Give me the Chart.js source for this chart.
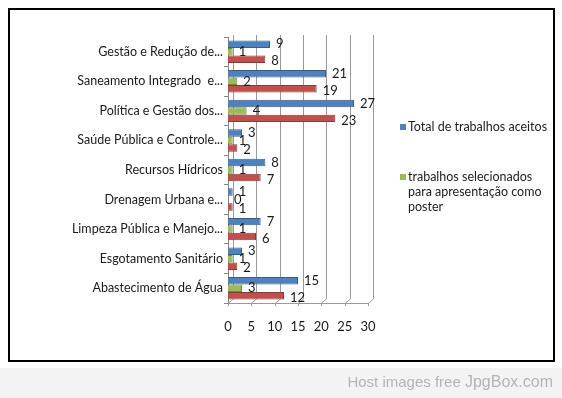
<!DOCTYPE html>
<html>
<head>
<meta charset="utf-8">
<script src="https://cdn.jsdelivr.net/npm/chart.js@4.4.1/dist/chart.umd.min.js"></script>
<style>
  body { margin: 0; width: 562px; height: 398px; background: #fff; position: relative; overflow: hidden; font-family: Lato, sans-serif; }
  #grafico { position: absolute; left: 0; top: 0; }
  #moldura { position: absolute; left: 8px; top: 8px; width: 543px; height: 350px; border: 2px solid #000; pointer-events: none; }
  #legenda { position: absolute; left: 400px; top: 119px; width: 150px; font-size: 12.5px; color: #222; line-height: 15px; }
  .item { position: relative; padding-left: 8px; }
  .item span.cor { position: absolute; left: 0; top: 5px; width: 6px; height: 6px; }
  #rodape { position: absolute; left: 0; top: 368px; width: 562px; height: 30px; background: #f3f3f3; }
  #rodape div { position: absolute; right: 9px; top: 5px; font-family: "Liberation Sans", Arial, sans-serif; font-size: 15px; color: #b4b4b4; }
</style>
</head>
<body>
<canvas id="grafico" width="562" height="368"></canvas>
<div id="moldura"></div>
<div id="legenda">
  <div class="item"><span class="cor" style="background:#4f81bd"></span>Total de trabalhos aceitos</div>
  <div class="item" style="margin-top:35px"><span class="cor" style="background:#9bbb59"></span>trabalhos selecionados para apresentação como poster</div>
</div>
<div id="rodape"><div>Host images free <span style="font-size:16px">JpgBox.com</span></div></div>
<script>
const categorias = [
    'Gestão e Redução de...',
    'Saneamento Integrado  e...',
    'Política e Gestão dos...',
    'Saúde Pública e Controle...',
    'Recursos Hídricos',
    'Drenagem Urbana e...',
    'Limpeza Pública e Manejo...',
    'Esgotamento Sanitário',
    'Abastecimento de Água'
];
const totalAceitos = [9, 21, 27, 3, 8, 1, 7, 3, 15];
const selecionadosPoster = [1, 2, 4, 1, 1, 0, 1, 1, 3];
const terceiraSerie = [8, 19, 23, 2, 7, 1, 6, 2, 12];
const ticksX = [0, 5, 10, 15, 20, 25, 30];

// grade em perspectiva (parede do fundo) como no Excel 3D
const grade3D = {
    id: 'grade3D',
    beforeDatasetsDraw(chart) {
        const ctx = chart.ctx;
        const area = chart.chartArea;
        const x = chart.scales.x;
        const dx = 5, dy = 4;
        ctx.save();
        ctx.strokeStyle = '#9a9a9a';
        ctx.lineWidth = 1;
        ticksX.forEach(v => {
            const px = Math.round(x.getPixelForValue(v)) + 0.5;
            ctx.beginPath();
            ctx.moveTo(px, area.bottom + 3);
            ctx.lineTo(px, area.bottom);
            ctx.lineTo(px + dx, area.bottom - dy);
            ctx.lineTo(px + dx, area.top - 2);
            ctx.stroke();
        });
        ctx.beginPath();
        ctx.moveTo(area.left, area.bottom + 0.5);
        ctx.lineTo(area.right, area.bottom + 0.5);
        ctx.stroke();
        ctx.restore();
    }
};

const rotulos = {
    id: 'rotulos',
    afterDatasetsDraw(chart) {
        const ctx = chart.ctx;
        ctx.save();
        ctx.font = '13px Lato, sans-serif';
        ctx.fillStyle = '#1a1a1a';
        ctx.textBaseline = 'middle';
        chart.data.datasets.forEach((ds, i) => {
            chart.getDatasetMeta(i).data.forEach((bar, j) => {
                ctx.fillText(String(ds.data[j]), bar.x + 6, bar.y + (i === 2 ? 2 : 0));
            });
        });
        ctx.restore();
    }
};

new Chart(document.getElementById('grafico'), {
    type: 'bar',
    data: {
        labels: categorias,
        datasets: [
            { label: 'Total de trabalhos aceitos', data: totalAceitos, backgroundColor: '#4f81bd', borderColor: '#385d8a', borderWidth: 1 },
            { label: 'trabalhos selecionados para apresentação como poster', data: selecionadosPoster, backgroundColor: '#9bbb59', borderColor: '#71893f', borderWidth: 1 },
            { label: 'Série 3', data: terceiraSerie, backgroundColor: '#c0504d', borderColor: '#8c3836', borderWidth: 1 }
        ]
    },
    options: {
        indexAxis: 'y',
        responsive: false,
        animation: false,
        devicePixelRatio: 1,
        layout: { padding: { top: 37, right: 194, bottom: 30, left: 0 } },
        datasets: { bar: { categoryPercentage: 0.76, barPercentage: 1 } },
        plugins: { legend: { display: false }, tooltip: { enabled: false } },
        scales: {
            x: {
                min: 0, max: 30,
                afterFit: s => { s.height = 35; },
                grid: { display: false },
                border: { display: false },
                ticks: { stepSize: 5, padding: 8, color: '#1a1a1a', font: { family: 'Lato', size: 13 } }
            },
            y: {
                afterFit: s => { s.width = 228; },
                grid: { drawOnChartArea: false, drawTicks: true, tickLength: 4, color: '#888' },
                border: { display: true, color: '#888' },
                ticks: { padding: 1, color: '#1a1a1a', font: { family: 'Lato', size: 12.5 } }
            }
        }
    },
    plugins: [grade3D, rotulos]
});
</script>
</body>
</html>
